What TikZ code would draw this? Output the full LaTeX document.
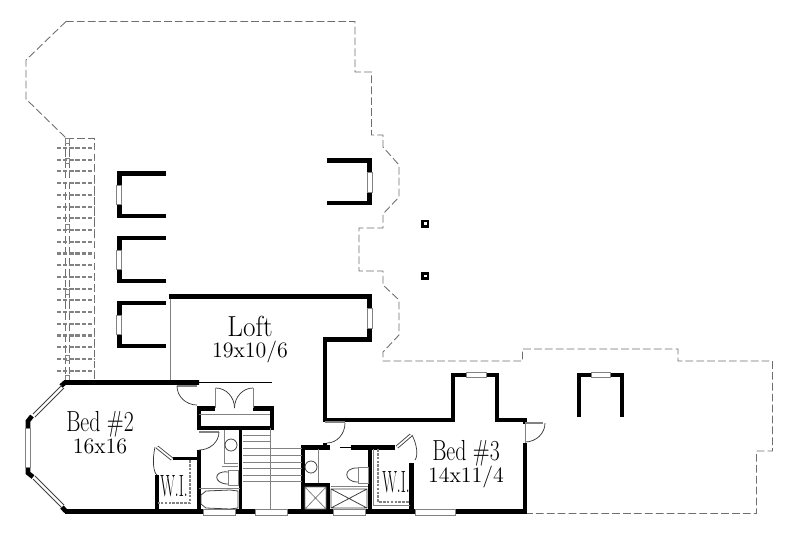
\documentclass[tikz,border=0pt]{standalone}
\usepackage{xcolor}
\usetikzlibrary{calc}
\definecolor{fixturegray}{RGB}{130,130,130}
\definecolor{dashgray}{RGB}{110,110,110}
\tikzset{
	wall/.style={line width=2.6pt, black, line join=miter},
	midwall/.style={line width=1.6pt, black},
	thinwall/.style={line width=1.1pt, black},
	graywall/.style={line width=1.1pt, fixturegray},
	fixture/.style={line width=.45pt, fixturegray},
	fixturedark/.style={line width=.45pt, black!75},
	swingline/.style={line width=.4pt, black!80},
	outline/.style={line width=.5pt, dashgray, dash pattern=on 4.4pt off 1.8pt},
	raildash/.style={line width=1.2pt, fixturegray, dash pattern=on 2.4pt off 1.1pt},
	closetdash/.style={line width=1pt, fixturegray, dash pattern=on 1.5pt off .7pt},
	windowbox/.style={line width=.5pt, fixturegray, fill=white},
	roomname/.style={font=\fontsize{16.5}{16.5}\selectfont, inner sep=0pt, xscale=.75},
	roomsize/.style={font=\fontsize{12.5}{12.5}\selectfont, inner sep=0pt},
	closetname/.style={font=\fontsize{17.5}{17.5}\selectfont, inner sep=0pt, xscale=.5},
}
\begin{document}
\begin{tikzpicture}[x=0.02cm, y=-0.02cm]
	\useasboundingbox (0,0) rectangle (800,534);
	% roof and deck outline
	\draw[outline] (66,21.5) -- (355,21.5) -- (355,72) -- (371.5,72) -- (371.5,135) -- (383,135) -- (383,147) -- (399,165) -- (399,197) -- (383,214) -- (383,228) -- (359,228) -- (359,271) -- (383,271) -- (383,285) -- (399,300) -- (399,335) -- (383,352) -- (383,361) -- (522.5,361) -- (522.5,349) -- (678,349) -- (678,361) -- (772.5,361) -- (772.5,451) -- (756.5,451) -- (756.5,513.5) -- (526,513.5);
	\draw[outline] (66,21.5) -- (26,60) -- (26,99) -- (66,138);
	% trellis
	\draw[outline] (66,138) -- (94,138) -- (94,380);
	\draw[outline] (65.5,138) -- (65.5,380);
	\draw[outline] (69,138) -- (69,380);
	\foreach \i in {0,...,19} {
		\draw[raildash] (57,148+11.72*\i) -- (94,148+11.72*\i);
	}
	\foreach \y in {140.5,161,227,292,358,378} {
		\draw[fixture] (65,\y-2.5) rectangle (69.5,\y+2.5);
	}
	% dormers
	\foreach \t/\b/\wa/\wb in {173.5/216/185/204, 238/281/250/269, 303/346/315/334} {
		\draw[wall] (165.5,\t) -- (119.5,\t) -- (119.5,\b) -- (165.5,\b);
		\draw[windowbox] (116.5,\wa) rectangle (121,\wb);
	}
	\draw[wall] (327,160.5) -- (369.5,160.5) -- (369.5,203) -- (327,203);
	\draw[windowbox] (367.5,172) rectangle (372,192);
	\draw[wall] (579,417) -- (579,375) -- (622,375) -- (622,417);
	\draw[windowbox] (591,372) rectangle (610,377);
	% posts
	\foreach \y in {223.7,276} {
		\draw[line width=1.5pt] (422.5,\y-2.8) rectangle (428.1,\y+2.8);
	}
	% outer walls of the loft and bed 3
	\draw[graywall] (170.5,296) -- (170.5,382);
	\draw[wall] (169,296.5) -- (369.5,296.5) -- (369.5,339.5) -- (325,339.5) -- (325,420) -- (453,420) -- (453,375) -- (497,375) -- (497,420) -- (525,420) -- (525,424);
	\draw[windowbox] (367.5,308) rectangle (372,328);
	\draw[windowbox] (466,372) rectangle (486,377);
	\draw[wall] (525,443) -- (525,511.5) -- (455,511.5);
	\draw[wall] (415,511.5) -- (365,511.5);
	\draw[wall] (333,511.5) -- (287,511.5);
	\draw[wall] (255,511.5) -- (235,511.5);
	\draw[wall] (203,511.5) -- (65,511.5);
	\foreach \xa/\xb in {203/235, 255/287, 333/365, 415.5/455} {
		\draw[windowbox] (\xa,509.5) rectangle (\xb,515);
	}
	% bed 2 bay
	\draw[wall] (199,382.5) -- (65,382.5) -- (61,386);
	\draw[thinwall] (199,382.5) -- (272,382.5);
	\draw[wall] (32,416) -- (28,421) -- (28,428);
	\draw[wall] (28,467) -- (28,473) -- (33,477);
	\draw[wall] (62,507) -- (66,511.5);
	\draw[windowbox] (25,428) rectangle (30,467);
	\draw[fixturedark] (33,414) -- (62,385) (35,417) -- (64,388);
	\draw[fixturedark] (33,479) -- (62,508) (35,476) -- (64,505);
	% stair block and closets
	\draw[wall] (215,408.5) -- (199,408.5) -- (199,428) -- (272,428) -- (272,408.5) -- (253,408.5);
	\draw[fixture] (199,414.5) -- (270,414.5);
	\draw[wall] (199,450) -- (199,511.5);
	\draw[midwall] (240.5,428) -- (240.5,511.5);
	\draw[wall] (157,511.5) -- (157,475);
	\draw[midwall] (173,458.5) -- (199,458.5);
	\draw[wall] (303,511.5) -- (303,447.5) -- (330,447.5) (351,447.5) -- (395,447.5);
	\draw[line width=.8pt] (340,447.5) -- (351,447.5);
	\draw[wall] (370,447.5) -- (370,511.5);
	\draw[wall] (303,485) -- (328,485) -- (328,511.5);
	\draw[wall] (411.5,463) -- (411.5,511.5);
	\draw[wall] (325,443) -- (325,447.5);
	% stairs
	\foreach \y in {435,441.7,448,455,462,468,475} {
		\draw[fixture] (243,\y) -- (270,\y);
	}
	\foreach \y in {448,455,462,468,475,481} {
		\draw[fixture] (270,\y) -- (302,\y);
	}
	\draw[fixture] (270,428) -- (270,510);
	\draw[fixture] (243,481) -- (270,481);
	% doors: leaf, then swing through the corner
	\foreach \ax/\ay/\bx/\by in {177/386/197/386, 219/432/199/432, 345/422/325/422, 543/423/525/423} {
		\draw[graywall] (\ax,\ay) -- (\bx,\by);
	}
	\foreach \ax/\ay/\cx/\cy/\bx/\by in {177/386/177/405/197/405, 219/432/219/450/199/450, 345/423/345/443/327/443, 545/423/545/442/525/442, 215.7/388/234.5/388/234.5/408, 253/388/234.5/388/234.5/408, 155/447/150/470/157/475, 412/435/421/452/415/460} {
		\draw[swingline] (\ax,\ay) .. controls ($(\ax,\ay)!.55!(\cx,\cy)$) and ($(\bx,\by)!.55!(\cx,\cy)$) .. (\bx,\by);
	}
	\draw[fixture] (215.7,388) -- (215.7,408) (253,388) -- (253,408);
	\draw[fixture] (525,423) -- (525,443);
	\foreach \ax/\ay/\bx/\by in {172/459/157/447, 397/447/411/435} {
		\draw[fixturedark, line width=2pt] (\ax,\ay) -- (\bx,\by);
		\draw[line width=1pt, white] (\ax,\ay) -- (\bx,\by);
	}
	% closet rods
	\draw[closetdash] (190,460) -- (190,503) -- (158,503);
	\draw[closetdash] (378,449) -- (378,502) -- (410,502);
	\draw[fixture] (373,449) -- (373,505) -- (410,505);
	% bath 2 fixtures
	\draw[fixture] (224,430) -- (224,463) -- (238,463) (222,466) -- (238,466);
	\draw[fixturedark] (231,445) ellipse (6 and 6);
	\draw[fixture] (228,470) rectangle (238,485);
	\draw[fixturedark] (228,472) .. controls (213,470) and (213,484) .. (228,484);
	\draw[fixture] (199,488) -- (240,488);
	\draw[fixturedark] (206,491) -- (230,490) -- (238,491) -- (238,508) -- (230,509) -- (206,508) -- (201,504) -- (201,495) -- cycle;
	% bath 3 fixtures
	\draw[fixture] (318,449) -- (318,483);
	\draw[fixturedark] (311,467) ellipse (6 and 6);
	\draw[fixture] (358,467) rectangle (368,483);
	\draw[fixturedark] (358,468) .. controls (343,467) and (343,482) .. (358,482);
	\draw[fixture] (331,486.5) -- (368,486.5);
	\draw[fixture] (305,487) rectangle (326,509) (305,487) -- (326,509) (326,487) -- (305,509);
	\draw[fixturedark] (331,489) rectangle (367,508) (331,489) -- (367,508) (367,489) -- (331,508);
	% labels
	\node[roomname, xscale=1.25] (loftname) at (250,326.5) {Loft};
	\node[roomsize] (loftsize) at (250,352.5) {19x10/6};
	\node[roomname] (bedtwoname) at (100,424) {Bed \#2};
	\node[roomsize] (bedtwosize) at (100,446) {16x16};
	\node[roomname] (bedthreename) at (466,453) {Bed \#3};
	\node[roomsize] (bedthreesize) at (466,477) {14x11/4};
	\node[closetname] (closettwo) at (174,486) {W.I.};
	\node[closetname] (closetthree) at (396,482) {W.I.};
\end{tikzpicture}
\end{document}
